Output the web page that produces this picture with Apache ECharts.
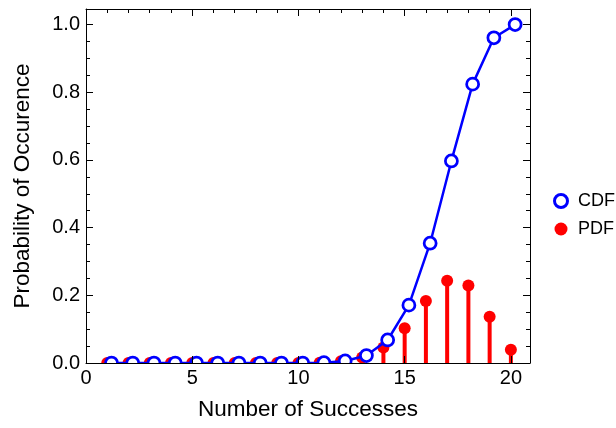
<!DOCTYPE html>
<html>
<head>
<meta charset="utf-8">
<script src="https://cdn.jsdelivr.net/npm/echarts@6/dist/echarts.min.js"></script>
<style>html,body{margin:0;padding:0;background:#fff}#c{width:616px;height:428px}</style>
</head>
<body>
<div id="c"></div>
<script>
var successes = [1,2,3,4,5,6,7,8,9,10,11,12,13,14,15,16,17,18,19,20];
var cdfValues = [0,0,0,0,0,0,0,0,0,0,0.001,0.006,0.022,0.068,0.171,0.354,0.597,0.824,0.961,1.0];
var pdfValues = [0,0,0,0,0,0,0,0,0,0,0.001,0.005,0.016,0.046,0.103,0.183,0.243,0.229,0.137,0.039];
var xTickLabels = ['0','5','10','15','20'];
var yTickLabels = ['0.0','0.2','0.4','0.6','0.8','1.0'];
var seriesNames = ['CDF','PDF'];

var FONT = 'Liberation Sans';
var cdfShift = 0.2;
var cdfData = successes.map(function(x,i){return [x + cdfShift, cdfValues[i]];});
var pdfData = successes.map(function(x,i){return [x, pdfValues[i]];});

function xAx(pos, interval, len, labels, line, extra){
  var a = {
    type:'value', position:pos, min:0, max:20.9, interval:interval,
    axisLine:{show:line, onZero:false, lineStyle:{color:'#000', width:1}},
    axisTick:{show:true, inside:true, length:len, lineStyle:{color:'#000', width:1}},
    splitLine:{show:false},
    axisLabel:{show:labels, showMaxLabel:false, margin:5, color:'#000', fontFamily:FONT, fontSize:20,
      formatter:function(v){ var k = xTickLabels.indexOf(String(v)); return k>=0 ? xTickLabels[k] : ''; }}
  };
  for (var k in extra) a[k]=extra[k];
  return a;
}
function yAx(pos, interval, len, labels, line, extra){
  var a = {
    type:'value', position:pos, min:0, max:1.046, interval:interval,
    axisLine:{show:line, onZero:false, lineStyle:{color:'#000', width:1}},
    axisTick:{show:true, inside:true, length:len, lineStyle:{color:'#000', width:1}},
    splitLine:{show:false},
    axisLabel:{show:labels, showMaxLabel:false, margin:6, color:'#000', fontFamily:FONT, fontSize:20,
      formatter:function(v){ return yTickLabels[Math.round(v/0.2)] || ''; }}
  };
  for (var k in extra) a[k]=extra[k];
  return a;
}

var chart = echarts.init(document.getElementById('c'), null, {renderer:'canvas'});
chart.setOption({
  animation:false,
  backgroundColor:'#fff',
  grid:{left:86, right:86, top:9, bottom:65, containLabel:false},
  legend:{
    orient:'vertical', left:548, top:187, itemWidth:24, itemHeight:13, itemGap:10,
    textStyle:{fontFamily:FONT, fontSize:18, color:'#000'},
    data:[
      {name:seriesNames[0], icon:'circle', itemStyle:{color:'#fff', borderColor:'#0000ff', borderWidth:3}},
      {name:seriesNames[1], icon:'circle', itemStyle:{color:'#ff0000', borderWidth:0, opacity:1}}
    ],
    selectedMode:false
  },
  graphic:[
    {type:'rect', shape:{x:86.5, y:364, width:443, height:8}, style:{fill:'#fff'}, z:50, silent:true}
  ],
  xAxis:[
    xAx('bottom',5,7,true,true,{z:60, name:'Number of Successes', nameLocation:'middle', nameGap:35,
      nameTextStyle:{fontFamily:FONT, fontSize:22.5, color:'#000'}}),
    xAx('bottom',1,4,false,false,{}),
    xAx('top',5,7,false,true,{}),
    xAx('top',1,4,false,false,{})
  ],
  yAxis:[
    yAx('left',0.2,7,true,true,{z:60, name:'Probability of Occurence', nameLocation:'middle', nameGap:52,
      nameTextStyle:{fontFamily:FONT, fontSize:22.5, color:'#000'}}),
    yAx('left',0.05,4,false,false,{}),
    yAx('right',0.2,7,false,true,{}),
    yAx('right',0.05,4,false,false,{})
  ],
  series:[
    {name:seriesNames[1], type:'bar', data:pdfData, barWidth:4, itemStyle:{color:'#ff0000', opacity:1},
      silent:true, z:2, legendHoverLink:false},
    {name:seriesNames[1], type:'scatter', data:pdfData, symbol:'circle', symbolSize:12,
      itemStyle:{color:'#ff0000', opacity:1}, z:3, clip:true},
    {name:seriesNames[0], type:'line', data:cdfData, symbol:'circle', symbolSize:12, showAllSymbol:true,
      lineStyle:{color:'#0000ff', width:2.5}, itemStyle:{color:'#fff', borderColor:'#0000ff', borderWidth:2.75},
      z:4, clip:true}
  ]
});
</script>
</body>
</html>
